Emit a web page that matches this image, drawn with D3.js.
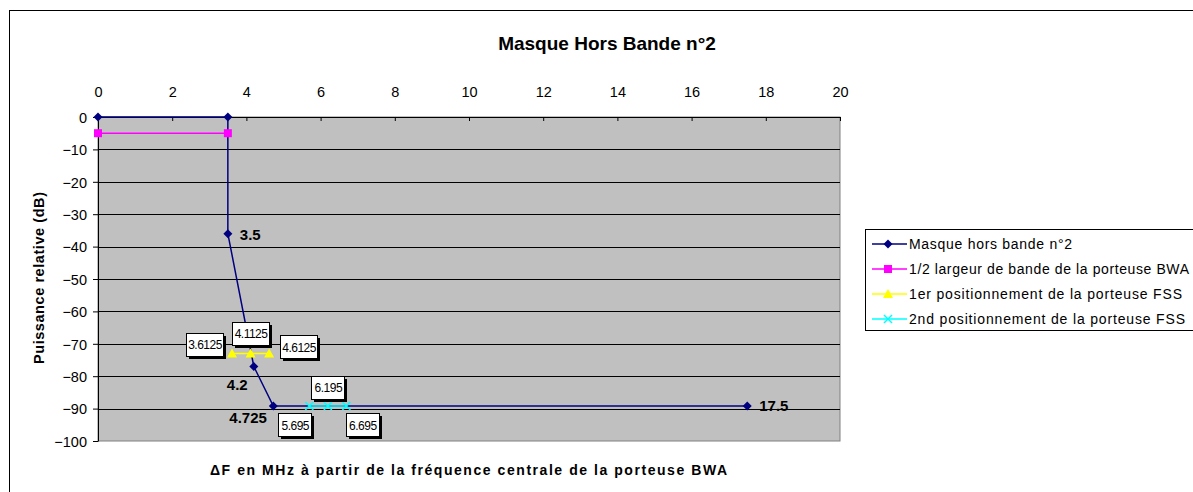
<!DOCTYPE html>
<html><head><meta charset="utf-8">
<script src="https://cdn.jsdelivr.net/npm/d3@7/dist/d3.min.js"></script>
<style>body{margin:0;background:#fff}svg{display:block;font-family:"Liberation Sans",Arial,sans-serif}</style>
</head><body><svg id="c" width="1193" height="492"></svg>
<script>
const title = "Masque Hors Bande n°2";
const xTitle = "ΔF en MHz à partir de la fréquence centrale de la porteuse BWA";
const yTitle = "Puissance relative (dB)";
const xTicks = [0,2,4,6,8,10,12,14,16,18,20];
const yTicks = [0,-10,-20,-30,-40,-50,-60,-70,-80,-90,-100];
const seriesNames = ["Masque hors bande n°2","1/2 largeur de bande de la porteuse BWA","1er positionnement de la porteuse FSS","2nd positionnement de la porteuse FSS"];
const masqueX = [0,3.5,3.5,4.2,4.725,17.5];
const masqueY = [0,0,-36,-77,-89.2,-89.2];
const masqueLabels = ["","","3.5","4.2","4.725","17.5"];
const demiX = [0,3.5];
const demiY = [-5,-5];
const fss1X = [3.6125,4.1125,4.6125];
const fss1Y = [-73,-73,-73];
const fss2X = [5.695,6.195,6.695];
const fss2Y = [-89.2,-89.2,-89.2];

const svg = d3.select("#c");
const L=98,R=840,T=117,B=441;
const x = d3.scaleLinear().domain([0,20]).range([L,R]);
const y = d3.scaleLinear().domain([0,-100]).range([T,B]);

// outer border
svg.append("rect").attr("x",9.5).attr("y",10.5).attr("width",1250).attr("height",520).attr("fill","#fff").attr("stroke","#000");
// plot area
svg.append("rect").attr("x",L).attr("y",T).attr("width",R-L).attr("height",B-T).attr("fill","#c0c0c0").attr("stroke","#808080");
// gridlines
svg.append("g").selectAll("line").data(yTicks.slice(1,-1)).join("line")
  .attr("x1",L).attr("x2",R).attr("y1",d=>Math.round(y(d))+0.5).attr("y2",d=>Math.round(y(d))+0.5).attr("stroke","#000");

// axes
const xa = svg.append("g").attr("transform",`translate(0,${T})`)
  .call(d3.axisTop(x).tickValues(xTicks).tickSizeInner(-4).tickSizeOuter(0).tickFormat(d3.format("d")));
xa.selectAll("text").attr("y",-20).attr("dy",0).style("font-size","14.5px").style("font-family","Liberation Sans, Arial").attr("fill","#000");
xa.select(".domain").attr("stroke","#000");
const ya = svg.append("g").attr("transform",`translate(${L},0)`)
  .call(d3.axisLeft(y).tickValues(yTicks).tickSize(5).tickSizeOuter(0).tickFormat(d3.format("d")));
ya.selectAll("text").attr("x",-11).attr("dy","0.36em").style("font-size","14.5px").style("font-family","Liberation Sans, Arial").attr("fill","#000");
ya.select(".domain").attr("stroke","#000");

// titles
svg.append("text").attr("x",607).attr("y",50).attr("text-anchor","middle").style("font-size","19px").style("font-weight","bold").text(title);
svg.append("text").attr("x",210).attr("y",475).attr("textLength",517).attr("lengthAdjust","spacing").style("font-size","14px").style("font-weight","bold").text(xTitle);
svg.append("text").attr("transform","translate(44,364) rotate(-90)").attr("textLength",172).attr("lengthAdjust","spacing").style("font-size","14.5px").style("font-weight","bold").text(yTitle);

const line = d3.line().x(d=>x(d[0])).y(d=>y(d[1]));
const zip = (a,b)=>a.map((v,i)=>[v,b[i]]);
const colors = ["#000080","#ff00ff","#ffff00","#00ffff"];
const sets = [zip(masqueX,masqueY),zip(demiX,demiY),zip(fss1X,fss1Y),zip(fss2X,fss2Y)];
sets.forEach((s,i)=>{
  svg.append("path").attr("d",line(s)).attr("fill","none").attr("stroke",colors[i]).attr("stroke-width",1.5);
});
function marker(g,type,cx,cy,col){
  if(type==0) g.append("path").attr("d",`M${cx},${cy-4.5}L${cx+4.5},${cy}L${cx},${cy+4.5}L${cx-4.5},${cy}Z`).attr("fill",col);
  else if(type==1) g.append("rect").attr("x",cx-4).attr("y",cy-4).attr("width",8).attr("height",8).attr("fill",col);
  else if(type==2) g.append("path").attr("d",`M${cx},${cy-5}L${cx+5},${cy+4}L${cx-5},${cy+4}Z`).attr("fill",col);
  else g.append("path").attr("d",`M${cx-4},${cy-4}L${cx+4},${cy+4}M${cx+4},${cy-4}L${cx-4},${cy+4}`).attr("stroke",col).attr("stroke-width",1.5);
}
const mg = svg.append("g");
sets.forEach((s,i)=>s.forEach(p=>marker(mg,i,x(p[0]),y(p[1]),colors[i])));

// bold labels on masque
const bl = [[12,6],[-27,24],[-44,17],[12,5]];
masqueLabels.forEach((t,i)=>{
  if(!t) return;
  const o = bl[i-2];
  svg.append("text").attr("x",x(masqueX[i])+o[0]).attr("y",y(masqueY[i])+o[1]).style("font-size","15px").style("font-weight","bold").text(t);
});

// boxed labels
function box(cx,cy,t){
  const w=t.length>5?37:33,h=23;
  const g=svg.append("g");
  g.append("rect").attr("x",Math.round(cx-w/2)+3).attr("y",Math.round(cy-h/2)+3).attr("width",w).attr("height",h).attr("fill","#000");
  g.append("rect").attr("x",Math.round(cx-w/2)+0.5).attr("y",Math.round(cy-h/2)+0.5).attr("width",w).attr("height",h).attr("fill","#fff").attr("stroke","#000");
  g.append("text").attr("x",cx+0.5).attr("y",cy+5).attr("text-anchor","middle").style("font-size","12px").style("letter-spacing","-0.5px").text(t);
}
const fss1Off = [[-27.5,-9.5],[0,-20.5],[29.5,-7]];
fss1X.forEach((v,i)=>box(x(v)+fss1Off[i][0],y(fss1Y[i])+fss1Off[i][1],String(v)));
const fss2Off = [[-14.5,18.5],[0,-19],[16,18.5]];
fss2X.forEach((v,i)=>box(x(v)+fss2Off[i][0],y(fss2Y[i])+fss2Off[i][1],String(v)));

// legend
const legendLens = [163,280,273,276];
const lg = svg.append("g");
lg.append("rect").attr("x",865.5).attr("y",229.5).attr("width",400).attr("height",101).attr("fill","#fff").attr("stroke","#000");
seriesNames.forEach((n,i)=>{
  const yy = 244+i*25;
  lg.append("line").attr("x1",872).attr("x2",907).attr("y1",yy).attr("y2",yy).attr("stroke",colors[i]).attr("stroke-width",1.5);
  marker(lg,i,888,yy,colors[i]);
  lg.append("text").attr("x",909).attr("y",yy+5).attr("textLength",legendLens[i]).attr("lengthAdjust","spacing").style("font-size","14px").text(n);
});
</script></body></html>
